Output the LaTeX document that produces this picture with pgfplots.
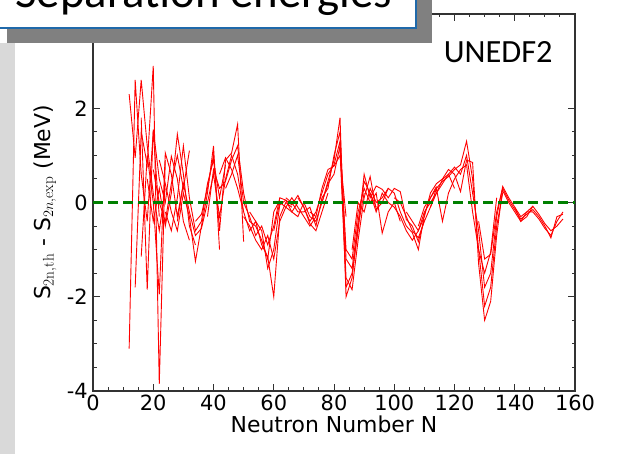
\documentclass[border=0pt]{standalone}
\usepackage{pgfplots}
\pgfplotsset{compat=1.18}
\usepackage{fontspec}
\newfontfamily\dejavu{DejaVu Sans}
\newfontfamily\carlito{Carlito}
\definecolor{stripgray}{RGB}{217,217,217}
\definecolor{shadowgray}{RGB}{128,128,128}
\definecolor{boxblue}{RGB}{31,105,170}
\definecolor{mplgreen}{RGB}{0,128,0}
\definecolor{framegray}{RGB}{50,50,50}
\pgfplotsset{redline/.style={red, line width=0.9bp, mark=none}}
\begin{document}
\begin{tikzpicture}[x=1bp,y=1bp]
\path[use as bounding box] (0,0) rectangle (631,454);
\clip (0,0) rectangle (631,454);
\fill[white] (0,0) rectangle (631,454);
\fill[stripgray] (0,0) rectangle (15,411);
\begin{axis}[
  at={(93bp,63bp)}, anchor=south west, scale only axis,
  width=482bp, height=377bp,
  xmin=0, xmax=160, ymin=-4, ymax=4,
  xtick={0,20,...,160}, ytick={-4,-2,0,2},
  minor x tick num=3, minor y tick num=3,
  tick align=inside,
  major tick length=7bp, minor tick length=3.5bp,
  axis line style={framegray, line width=1.3bp},
  every tick/.style={framegray, line width=1bp},
  /pgf/number format/assume math mode=true,
  ticklabel style={font=\dejavu\fontsize{21}{21}\selectfont},
  xticklabel style={inner sep=0pt, yshift=-4bp},
  yticklabel style={inner sep=0pt, xshift=-5bp},
  xlabel={Neutron Number N},
  xlabel style={font=\dejavu\fontsize{22}{22}\selectfont, at={(axis description cs:0.5,-0.1088)}, anchor=base},
  ylabel={S$_{\mathrm{2n,th}}$ - S$_{2n,\mathrm{exp}}$ (MeV)},
  ylabel style={font=\dejavu\fontsize{22}{22}\selectfont, at={(axis description cs:-0.0892,0.5)}, anchor=base},
]
% light chains
\addplot[redline] coordinates {(12,-3.1) (14,2.6) (16,0.6) (18,-0.4) (20,1.5) (22,-0.3)};
\addplot[redline] coordinates {(12,2.3) (14,0.95) (16,2.6) (18,1.2) (20,0.2) (22,-0.6) (24,0.3)};
\addplot[redline] coordinates {(14,-1.8) (16,1.5) (18,0.8) (20,2.9) (22,-3.85) (24,0.9)};
\addplot[redline] coordinates {(16,-1.15) (18,1.0) (20,0.0) (22,-1.95) (24,1.05) (26,0.6) (28,-0.3) (30,0.4)};
\addplot[redline] coordinates {(16,1.8) (18,-1.85) (20,1.55) (22,0.5) (24,0.0) (26,0.98) (28,0.5) (30,-0.4) (32,-0.8)};
\addplot[redline] coordinates {(18,0.5) (20,-0.4) (22,0.3) (24,-0.5) (26,0.2) (28,1.45) (30,0.6) (32,-0.5) (34,-0.9)};
\addplot[redline] coordinates {(20,0.7) (22,0.0) (24,-0.4) (26,0.4) (28,1.0) (30,0.3) (32,1.1)};
\addplot[redline] coordinates {(22,0.9) (24,0.4) (26,-0.2) (28,-0.6) (30,0.2) (32,-0.3) (34,-1.25) (36,-0.5) (38,0.2) (40,1.2) (42,-1.0)};
% medium chains
\addplot[redline] coordinates {(24,-0.2) (26,-0.6) (28,0.1) (30,1.2) (32,0.1) (34,-0.6) (36,-0.4) (38,0.4) (40,0.9) (42,0.1) (44,0.8)};
\addplot[redline] coordinates {(28,-0.4) (30,0.4) (32,-0.2) (34,-0.7) (36,-0.55) (38,0.0) (40,0.6) (42,-0.3) (44,0.5) (46,1.0) (48,0.6) (50,-0.2)};
\addplot[redline] coordinates {(34,-0.4) (36,-0.25) (38,0.3) (40,1.0) (42,-0.6) (44,0.9) (46,1.05) (48,1.66) (50,-0.83)};
\addplot[redline] coordinates {(38,-0.3) (40,0.7) (42,0.3) (44,0.45) (46,0.9) (48,1.2) (50,0.2) (52,-0.4) (54,-0.5) (56,-0.8) (58,-1.2) (60,-0.2) (62,0.05)};
\addplot[redline] coordinates {(42,0.6) (44,0.95) (46,0.7) (48,0.3) (50,-0.2) (52,-0.6) (54,-0.4) (56,-0.9) (58,-1.15) (60,-2.0) (62,-0.3) (64,0.0) (66,-0.1)};
\addplot[redline] coordinates {(44,0.3) (46,0.6) (48,1.0) (50,0.0) (52,-0.3) (54,-0.7) (56,-0.5) (58,-0.9) (60,-0.5) (62,0.1) (64,0.05) (66,-0.2) (68,0.0)};
\addplot[redline] coordinates {(50,-0.3) (52,-0.5) (54,-0.8) (56,-1.0) (58,-0.7) (60,-1.2) (62,-0.4) (64,-0.1) (66,0.1) (68,-0.1) (70,-0.3) (72,-0.5) (74,-0.3)};
\addplot[redline] coordinates {(52,-0.2) (54,-0.4) (56,-0.6) (58,-1.4) (60,-1.0) (62,-0.05) (64,0.05) (66,-0.05) (68,0.15) (70,-0.1) (72,-0.45) (74,-0.6) (76,-0.2) (78,0.2)};
% heavy chains
\addplot[redline] coordinates {(60,-0.6) (62,0.0) (64,-0.1) (66,-0.2) (68,-0.3) (70,0.0) (72,-0.3) (74,-0.4) (76,0.0) (78,0.45) (80,0.9) (82,1.8) (84,-2.0) (86,-1.6) (88,-0.5) (90,0.2)};
\addplot[redline] coordinates {(64,0.1) (66,0.0) (68,-0.2) (70,-0.2) (72,-0.1) (74,-0.5) (76,0.1) (78,0.3) (80,1.0) (82,1.5) (84,-1.2) (86,-1.4) (88,-0.4) (90,0.45) (92,0.2) (94,-0.1)};
\addplot[redline] coordinates {(68,0.1) (70,-0.1) (72,-0.4) (74,-0.2) (76,0.2) (78,0.6) (80,0.8) (82,1.3) (84,-1.6) (86,-1.85) (88,-0.8) (90,0.1) (92,0.55) (94,-0.15) (96,0.0) (98,0.3)};
\addplot[redline] coordinates {(72,-0.2) (74,-0.3) (76,0.3) (78,0.7) (80,0.77) (82,1.0) (84,-0.3)};
\addplot[redline] coordinates {(76,0.0) (78,0.4) (80,0.6) (82,1.2) (84,-1.0) (86,-1.2) (88,-0.2) (90,0.3) (92,0.0) (94,0.2) (96,-0.65) (98,-0.2) (100,0.0) (102,-0.4)};
\addplot[redline] coordinates {(82,1.1) (84,-1.8) (86,-1.5) (88,-0.6) (90,0.6) (92,0.1) (94,0.35) (96,0.28) (98,0.1) (100,0.3) (102,0.23) (104,-0.36) (106,-0.5) (108,-0.83) (110,-0.36)};
\addplot[redline] coordinates {(86,-1.0) (88,0.0) (90,-0.2) (92,0.3) (94,0.0) (96,0.1) (98,0.3) (100,0.2) (102,-0.2) (104,-0.5) (106,-0.64) (108,-1.0) (110,-0.25) (112,0.1) (114,0.34)};
\addplot[redline] coordinates {(92,0.2) (94,-0.2) (96,0.2) (98,0.0) (100,-0.1) (102,-0.3) (104,-0.6) (106,-0.8) (108,-0.6) (110,-0.2) (112,0.0) (114,0.2) (116,0.49) (118,0.6) (120,0.3)};
\addplot[redline] coordinates {(100,0.1) (102,0.0) (104,-0.3) (106,-0.6) (108,-0.75) (110,-0.4) (112,-0.1) (114,0.3) (116,-0.4) (118,0.2) (120,0.5) (122,0.7) (124,0.8) (126,-0.2) (128,-1.0) (130,-1.5) (132,-1.05) (134,0.1)};
\addplot[redline] coordinates {(104,-0.2) (106,-0.4) (108,-0.6) (110,-0.3) (112,0.2) (114,0.4) (116,0.5) (118,0.7) (120,0.6) (122,0.23) (124,0.9) (126,0.85) (128,-1.3) (130,-2.5) (132,-2.1) (134,-0.7) (136,0.3)};
\addplot[redline] coordinates {(108,-0.5) (110,-0.1) (112,0.1) (114,0.3) (116,0.45) (118,0.55) (120,0.7) (122,0.8) (124,1.3) (126,0.5) (128,-1.0) (130,-2.2) (132,-1.8) (134,-0.5) (136,0.2)};
\addplot[redline] coordinates {(112,-0.1) (114,0.2) (116,0.4) (118,0.6) (120,0.75) (122,0.6) (124,1.0) (126,0.2) (128,-0.6) (130,-1.8) (132,-1.5) (134,-0.3) (136,0.34) (138,0.1) (140,-0.1) (142,-0.4) (144,-0.2) (146,-0.08)};
% actinide chains
\addplot[redline] coordinates {(128,-0.4) (130,-1.2) (132,-1.1) (134,-0.2) (136,0.3) (138,0.05) (140,-0.15) (142,-0.35) (144,-0.25) (146,-0.15) (148,-0.3) (150,-0.5) (152,-0.75) (154,-0.3) (156,-0.25)};
\addplot[redline] coordinates {(136,0.25) (138,0.0) (140,-0.2) (142,-0.4) (144,-0.3) (146,-0.08) (148,-0.25) (150,-0.45) (152,-0.6) (154,-0.5) (156,-0.35)};
\addplot[redline] coordinates {(140,-0.1) (142,-0.3) (144,-0.2) (146,-0.2) (148,-0.35) (150,-0.55) (152,-0.7) (154,-0.4) (156,-0.2)};
% zero line
\addplot[mplgreen, line width=2.2bp, dash pattern=on 10bp off 5bp] coordinates {(0,0) (160,0)};
\node[anchor=base, inner sep=0pt, font=\carlito\fontsize{32.5}{32.5}\selectfont] at (axis cs:134.5,2.98) {UNEDF2};
\end{axis}
\fill[shadowgray] (7,411) rectangle (432,460);
\filldraw[fill=white, draw=boxblue, line width=1.2bp] (-5,426) rectangle (416,470);
\node[font=\carlito\fontsize{47}{47}\selectfont, anchor=base west, inner sep=0pt] at (15,446) {Separation energies};
\end{tikzpicture}
\end{document}
